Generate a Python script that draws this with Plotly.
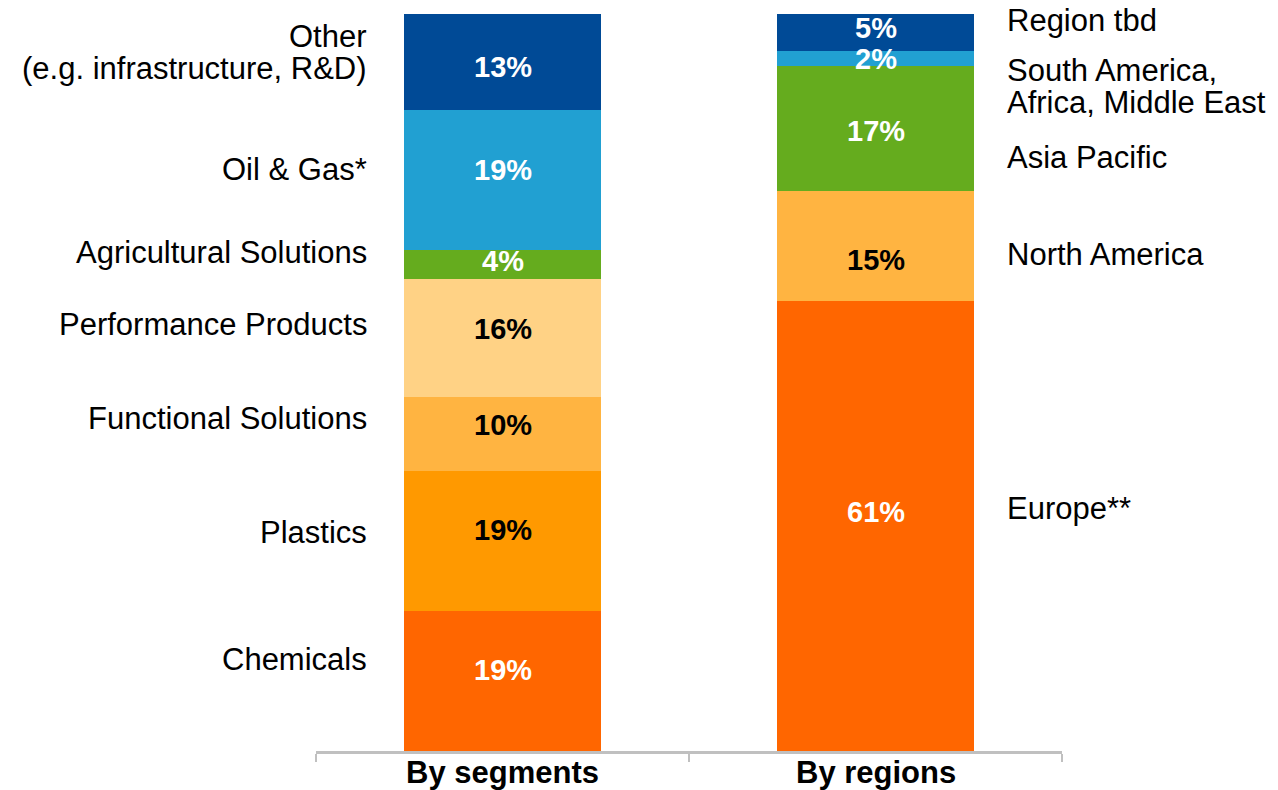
import plotly.graph_objects as go

# Share of sales, in percent, stacked bottom to top
categories = ["By segments", "By regions"]

segment_names = ["Chemicals", "Plastics", "Functional Solutions", "Performance Products",
                 "Agricultural Solutions", "Oil & Gas*", "Other<br>(e.g. infrastructure, R&D)"]
segment_values = [19, 19, 10, 16, 4, 19, 13]

region_names = ["Europe**", "North America", "Asia Pacific",
                "South America,<br>Africa, Middle East", "Region tbd"]
region_values = [61, 15, 17, 2, 5]

# Styling
segment_colors = ["#FF6600", "#FF9900", "#FFB441", "#FFD285", "#65AC1E", "#21A0D2", "#004A96"]
segment_text = ["white", "black", "black", "black", "white", "white", "white"]
region_colors = ["#FF6600", "#FFB441", "#65AC1E", "#21A0D2", "#004A96"]
region_text = ["white", "black", "white", "white", "white"]

# vertical nudges (px) of side labels relative to segment centres
segment_label_shift = [21, 8, 16, 14, 12, 10, 9]
region_label_shift = [18, -8, -29, -28, 12]
# vertical nudges (px) of in-bar value labels
segment_value_shift = [11, 11, 9, 9, 4, 10, -5]
region_value_shift = [14, -14, -3, -1, 4]

FONT = "Liberation Sans, Arial, sans-serif"
LABEL_SIZE = 31
VALUE_SIZE = 29
CAT_SIZE = 31
LINE_GAP = 32

fig = go.Figure()
annotations = []


def add_stack(cat, names, values, colors, text_colors, label_shift, value_shift, side):
    base = 0
    for name, v, c, tc, ls, vs in zip(names, values, colors, text_colors, label_shift, value_shift):
        fig.add_trace(go.Bar(
            x=[cat], y=[v], marker=dict(color=c, line=dict(width=0)),
            name=name.replace("<br>", " "), width=0.53, hoverinfo="name+y",
        ))
        mid = base + v / 2
        annotations.append(dict(
            x=cat, y=mid, xref="x", yref="y", text=f"<b>{v}%</b>", showarrow=False,
            font=dict(family=FONT, size=VALUE_SIZE, color=tc),
            xanchor="center", yanchor="middle", yshift=vs, borderpad=0,
        ))
        lines = name.split("<br>")
        n = len(lines)
        for i, line in enumerate(lines):
            off = (n - 1) / 2 * LINE_GAP - i * LINE_GAP
            annotations.append(dict(
                x=0.0715 if side == "left" else 0.9236, xref="paper",
                y=mid, yref="y", text=line, showarrow=False,
                font=dict(family=FONT, size=LABEL_SIZE, color="black"),
                xanchor="right" if side == "left" else "left",
                align="right" if side == "left" else "left",
                yanchor="middle", yshift=ls + off,
            ))
        base += v


add_stack(categories[0], segment_names, segment_values, segment_colors, segment_text,
          segment_label_shift, segment_value_shift, "left")
add_stack(categories[1], region_names, region_values, region_colors, region_text,
          region_label_shift, region_value_shift, "right")

# category captions under the axis line
for cat in categories:
    annotations.append(dict(
        x=cat, xref="x", y=0, yref="paper", text=f"<b>{cat}</b>", showarrow=False,
        font=dict(family=FONT, size=CAT_SIZE, color="black"),
        xanchor="center", yanchor="middle", yshift=-21,
    ))

fig.update_layout(
    width=1278, height=790,
    margin=dict(l=316, r=216, t=14, b=39),
    barmode="stack", showlegend=False,
    paper_bgcolor="white", plot_bgcolor="white",
    annotations=annotations,
    xaxis=dict(
        type="category", categoryorder="array", categoryarray=categories,
        range=[-0.5, 1.5], showline=True, linecolor="#C0C0C0", linewidth=3,
        ticks="outside", tickson="boundaries", ticklen=8, tickwidth=2, tickcolor="#C0C0C0",
        showticklabels=False, showgrid=False, automargin=False,
    ),
    yaxis=dict(range=[0, 100], visible=False, showgrid=False, fixedrange=True),
    bargap=0,
)

fig.write_html("out.html")
